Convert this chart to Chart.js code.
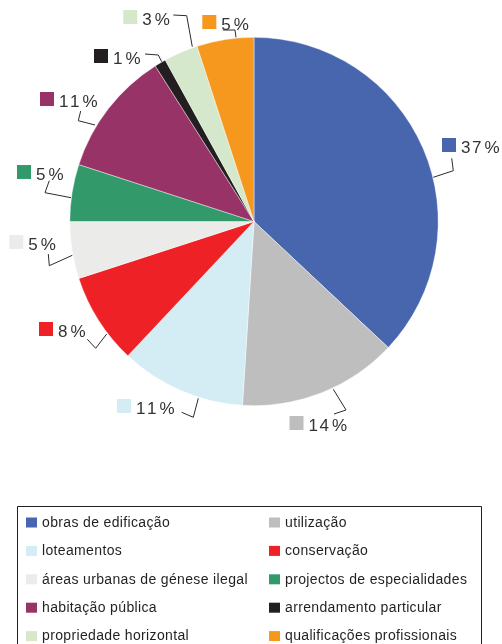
<!DOCTYPE html>
<html>
<head>
<meta charset="utf-8">
<script src="https://cdn.jsdelivr.net/npm/chart.js@4"></script>
<style>
  html, body { margin: 0; padding: 0; background: #fff; }
  #wrap { position: relative; width: 502px; height: 644px; overflow: hidden; }
</style>
</head>
<body>
<div id="wrap"><canvas id="c" width="502" height="644"></canvas></div>
<script>
// Categories of licensing / procedures and their share (%)
const categories = [
  'obras de edificação',
  'utilização',
  'loteamentos',
  'conservação',
  'áreas urbanas de génese ilegal',
  'projectos de especialidades',
  'habitação pública',
  'arrendamento particular',
  'propriedade horizontal',
  'qualificações profissionais'
];
const shares = [37, 14, 11, 8, 5, 5, 11, 1, 3, 5];
const sliceColors = [
  '#4866ae', '#bebebe', '#d4ecf3', '#ee2226', '#ebebea',
  '#329a6a', '#973366', '#231f20', '#d5e8cb', '#f7981e'
];

// Callout placement for each slice label, in px relative to the pie centre:
// marker = top-left of the colour square, leader = polyline from pie edge outwards
const calloutLayout = [
  { marker: [188, -83.5],    leader: [[179.3, -44.2], [199.3, -50.8], [197.7, -63.2]] },
  { marker: [35.5, 194.5],   leader: [[79.3, 167.8], [92, 188.5], [80, 192.5]] },
  { marker: [-137, 177.5],   leader: [[-55.7, 176.8], [-60.7, 195.8], [-72.3, 190.8]] },
  { marker: [-215, 100.5],   leader: [[-147.3, 112.5], [-158.3, 126.8], [-166.7, 117.8]] },
  { marker: [-244.7, 13.5],  leader: [[-181.7, 33.8], [-204.7, 44.2], [-205.7, 32.5]] },
  { marker: [-237, -56.5],   leader: [[-183, -23.8], [-209, -28.8], [-204.7, -40.8]] },
  { marker: [-214, -129.5],  leader: [[-159, -96.5], [-175.7, -100.8], [-173.3, -110.5]] },
  { marker: [-160, -172.5],  leader: [[-92.3, -159.8], [-95.7, -166.5], [-109, -167.5]] },
  { marker: [-130.7, -211.5],leader: [[-61.7, -174.8], [-67.3, -205.8], [-80.7, -206.5]] },
  { marker: [-51.7, -206.5], leader: [[-18, -184.2], [-19, -191.5], [-31.3, -191.5]] }
];

// Percentage callouts with colour square and leader line
const calloutPlugin = {
  id: 'callouts',
  afterDatasetsDraw(chart) {
    const ctx = chart.ctx;
    const meta = chart.getDatasetMeta(0);
    const arc = meta.data[0];
    const cx = arc.x, cy = arc.y;
    const ds = chart.data.datasets[0];
    ctx.save();
    if ('letterSpacing' in ctx) ctx.letterSpacing = '0px';
    ds.data.forEach((v, i) => {
      const L = calloutLayout[i];
      // leader line
      ctx.beginPath();
      L.leader.forEach((p, k) => {
        const x = cx + p[0], y = cy + p[1];
        if (k === 0) ctx.moveTo(x, y); else ctx.lineTo(x, y);
      });
      ctx.strokeStyle = '#2b2b2b';
      ctx.lineWidth = 1;
      ctx.stroke();
      // colour square
      const mx = cx + L.marker[0], my = cy + L.marker[1];
      ctx.fillStyle = ds.backgroundColor[i];
      ctx.fillRect(mx, my, 14, 14);
      // value text: digits slightly tracked, then a narrow gap and "%"
      ctx.font = '17px "Liberation Sans", Arial, sans-serif';
      ctx.fillStyle = '#333333';
      ctx.textBaseline = 'alphabetic';
      ctx.textAlign = 'left';
      let tx = mx + 19;
      const ty = my + 15;
      const digits = String(v);
      for (let k = 0; k < digits.length; k++) {
        ctx.fillText(digits[k], tx, ty);
        tx += ctx.measureText(digits[k]).width + (k < digits.length - 1 ? 1.5 : 0);
      }
      ctx.fillText('%', tx + 3, ty);
    });
    ctx.restore();
  }
};

// Boxed two-column legend below the pie
const boxLegendPlugin = {
  id: 'boxLegend',
  afterDraw(chart) {
    const ctx = chart.ctx;
    const ds = chart.data.datasets[0];
    const labels = chart.data.labels;
    ctx.save();
    ctx.strokeStyle = '#231f20';
    ctx.lineWidth = 1;
    ctx.beginPath();
    ctx.moveTo(17.5, 660);
    ctx.lineTo(17.5, 506.5);
    ctx.lineTo(481.5, 506.5);
    ctx.lineTo(481.5, 660);
    ctx.stroke();

    const colX = [26, 269];
    const row0 = 522.5, rowStep = 28.4;
    ctx.font = '14px "Liberation Sans", Arial, sans-serif';
    if ('letterSpacing' in ctx) ctx.letterSpacing = '0.35px';
    ctx.textBaseline = 'middle';
    ctx.textAlign = 'left';
    labels.forEach((lab, i) => {
      const col = i % 2, row = Math.floor(i / 2);
      const x = colX[col];
      const y = row0 + row * rowStep;
      ctx.fillStyle = ds.backgroundColor[i];
      ctx.fillRect(x, y - 5, 11, 10);
      ctx.fillStyle = '#231f20';
      ctx.fillText(lab, x + 16, y + 0.5);
    });
    ctx.restore();
  }
};

new Chart(document.getElementById('c'), {
  type: 'pie',
  data: {
    labels: categories,
    datasets: [{
      data: shares,
      backgroundColor: sliceColors,
      borderColor: 'rgba(255,255,255,0.7)',
      borderWidth: 0.6
    }]
  },
  options: {
    responsive: false,
    animation: false,
    devicePixelRatio: 1,
    layout: { padding: { left: 69.5, right: 63.5, top: 37, bottom: 238 } },
    plugins: {
      legend: { display: false },
      tooltip: { enabled: false },
      title: { display: false }
    }
  },
  plugins: [calloutPlugin, boxLegendPlugin]
});
</script>
</body>
</html>
